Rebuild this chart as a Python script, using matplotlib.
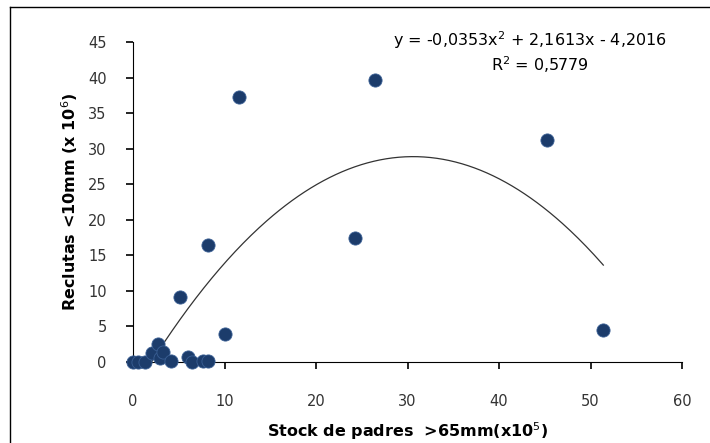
import numpy as np
import matplotlib.pyplot as plt
from matplotlib.lines import Line2D

# stock de padres (x10^5) vs reclutas (x10^6)
stock = [0.0, 0.6, 1.3, 2.1, 2.7, 2.9, 3.3, 4.2, 5.1, 6.0, 6.5, 7.7, 8.2,
         8.2, 10.1, 11.6, 24.3, 26.5, 45.2, 51.4]
reclutas = [0.0, 0.0, 0.0, 1.2, 2.6, 0.6, 1.4, 0.1, 9.1, 0.7, 0.0, 0.1, 0.1,
            16.5, 3.9, 37.3, 17.4, 39.7, 31.2, 4.5]
coef = [-0.0353, 2.1613, -4.2016]
xticks = [0, 10, 20, 30, 40, 50, 60]
yticks = [0, 5, 10, 15, 20, 25, 30, 35, 40, 45]

COLOR = '#1c3c6b'

fig = plt.figure(figsize=(7.1, 4.43), dpi=100)
ax = fig.add_axes([133/710, 81/443, 549/710, 320/443])

ax.scatter(stock, reclutas, s=90, color=COLOR, edgecolors='#3a5f94',
           linewidths=0.6, zorder=3, clip_on=False)

xs = np.linspace(min(stock), max(stock), 300)
ax.plot(xs, np.polyval(coef, xs), color='#333333', linewidth=0.9, zorder=2)

ax.set_xlim(0, 60)
ax.set_ylim(0, 45)
ax.set_xticks(xticks)
ax.set_yticks(yticks)
ax.spines['top'].set_visible(False)
ax.spines['right'].set_visible(False)
ax.tick_params(direction='out', length=5, width=1.2, labelsize=10.5,
               labelcolor='#333333')
ax.tick_params(axis='x', pad=18)
ax.tick_params(axis='y', pad=14)

ax.set_xlabel('Stock de padres  >65mm(x10$^5$)', fontsize=11.5,
              fontweight='bold', labelpad=8)
ax.set_ylabel('Reclutas <10mm (x 10$^6$)', fontsize=11.5,
              fontweight='bold', labelpad=6)

fig.text(530/710, 1 - 40/443, 'y = -0,0353x$^2$ + 2,1613x - 4,2016',
         ha='center', va='center', fontsize=11.5)
fig.text(540/710, 1 - 65/443, 'R$^2$ = 0,5779', ha='center', va='center',
         fontsize=11.5)

# outer frame
fig.add_artist(Line2D([10/710, 10/710], [0, 1 - 7/443], color='black', lw=1))
fig.add_artist(Line2D([10/710, 1], [1 - 7/443, 1 - 7/443], color='black', lw=1))

fig.savefig('out.png', dpi=100)
